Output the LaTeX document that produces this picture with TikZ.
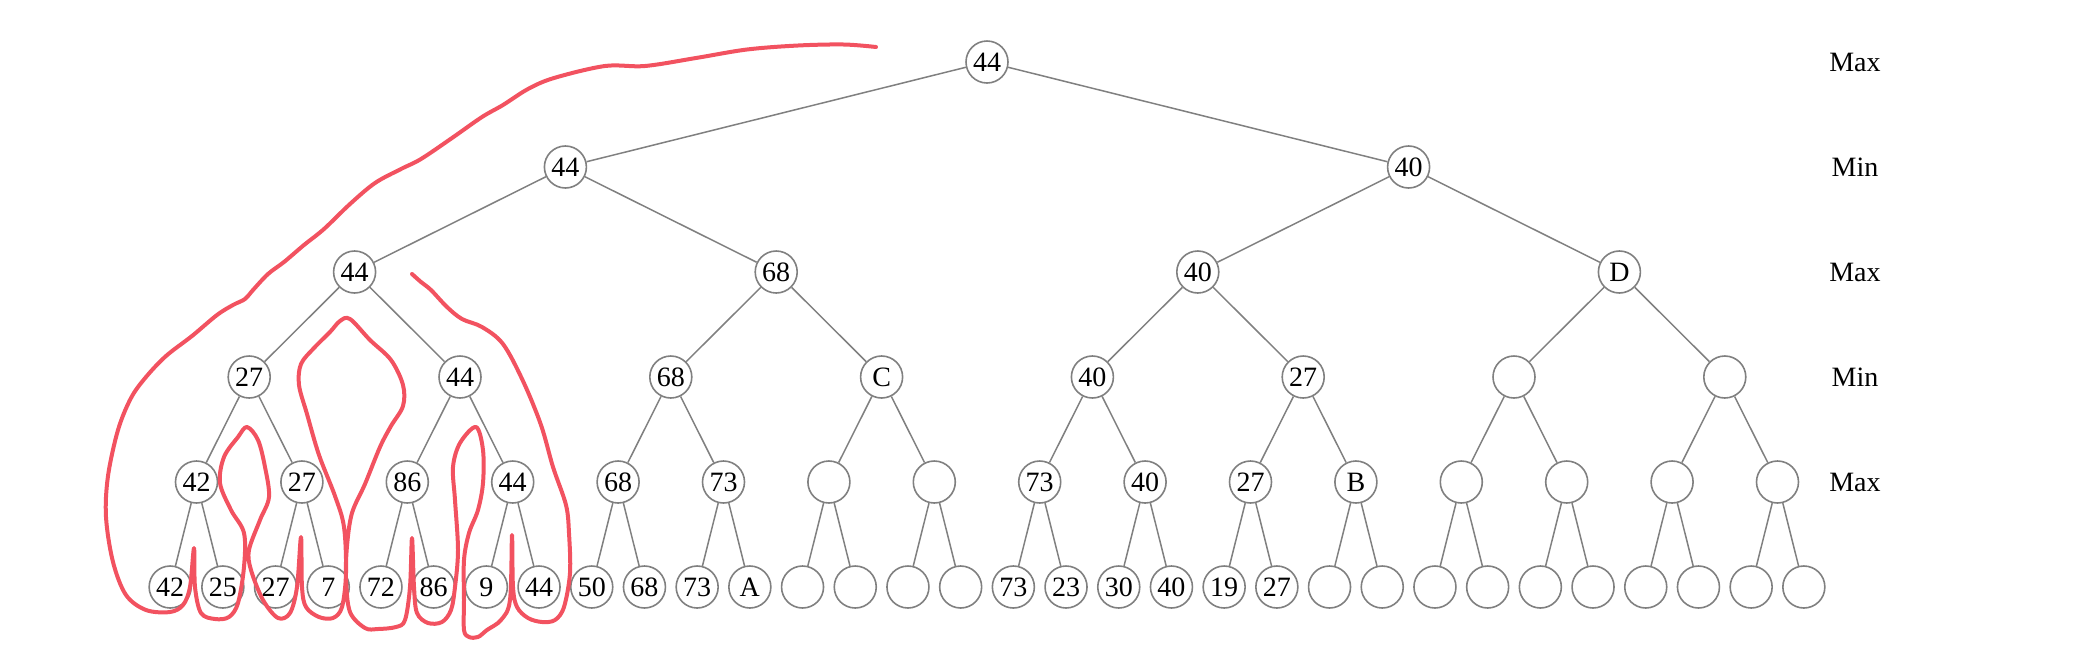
\documentclass[tikz,border=0pt]{standalone}
\usepackage{fontspec}
\setmainfont{Liberation Serif}
\usepackage{tikz}
\usetikzlibrary{positioning, calc}
\definecolor{penred}{RGB}{242,82,96}
\tikzstyle{gamenode}=[draw=black!50,line width=0.8pt,fill=white,circle,minimum size=21pt,inner sep=0pt,font=\fontsize{14}{16}\selectfont]
\tikzstyle{plylabel}=[font=\fontsize{14}{16}\selectfont]
\tikzstyle{penline}=[draw=penred,line width=2pt,line cap=round,line join=round]

\begin{document}
\begin{tikzpicture}[x=0.5pt,y=-0.5pt,level distance=52.5pt,
    level/.style={sibling distance=843.2pt/2^#1},
    edge from parent/.style={draw,black!50,line width=0.75pt}]
    \useasboundingbox (0,0) rectangle (2078,644);
    \node [gamenode] (root) at (987,62) {44}
      child {
        node [gamenode] {44}
        child {
          node [gamenode] {44}
          child {
            node [gamenode] {27}
            child {
              node [gamenode] {42}
              child {node [gamenode] {42}}
              child {node [gamenode] {25}}
            }
            child {
              node [gamenode] {27}
              child {node [gamenode] {27}}
              child {node [gamenode] {7}}
            }
          }
          child {
            node [gamenode] {44}
            child {
              node [gamenode] {86}
              child {node [gamenode] {72}}
              child {node [gamenode] {86}}
            }
            child {
              node [gamenode] {44}
              child {node [gamenode] {9}}
              child {node [gamenode] {44}}
            }
          }
        }
        child {
          node [gamenode] {68}
          child {
            node [gamenode] {68}
            child {
              node [gamenode] {68}
              child {node [gamenode] {50}}
              child {node [gamenode] {68}}
            }
            child {
              node [gamenode] {73}
              child {node [gamenode] {73}}
              child {node [gamenode] {A}}
            }
          }
          child {
            node [gamenode] {C}
            child {
              node [gamenode] {}
              child {node [gamenode] {}}
              child {node [gamenode] {}}
            }
            child {
              node [gamenode] {}
              child {node [gamenode] {}}
              child {node [gamenode] {}}
            }
          }
        }
      }
      child {
        node [gamenode] {40}
        child {
          node [gamenode] {40}
          child {
            node [gamenode] {40}
            child {
              node [gamenode] {73}
              child {node [gamenode] {73}}
              child {node [gamenode] {23}}
            }
            child {
              node [gamenode] {40}
              child {node [gamenode] {30}}
              child {node [gamenode] {40}}
            }
          }
          child {
            node [gamenode] {27}
            child {
              node [gamenode] {27}
              child {node [gamenode] {19}}
              child {node [gamenode] {27}}
            }
            child {
              node [gamenode] {B}
              child {node [gamenode] {}}
              child {node [gamenode] {}}
            }
          }
        }
        child {
          node [gamenode] {D}
          child {
            node [gamenode] {}
            child {
              node [gamenode] {}
              child {node [gamenode] {}}
              child {node [gamenode] {}}
            }
            child {
              node [gamenode] {}
              child {node [gamenode] {}}
              child {node [gamenode] {}}
            }
          }
          child {
            node [gamenode] {}
            child {
              node [gamenode] {}
              child {node [gamenode] {}}
              child {node [gamenode] {}}
            }
            child {
              node [gamenode] {}
              child {node [gamenode] {}}
              child {node [gamenode] {}}
            }
          }
        }
      };
    \foreach \t [count=\i from 0] in {Max,Min,Max,Min,Max}
      \node [plylabel] (ply\i) at (1855,{62+105*\i}) {\t};
    \draw [penline] plot [smooth, tension=0.55] coordinates {
      (876,47) (844,44.5) (798,45.5) (747,49.5) (696,58) (645,66) (605,66)
      (554,78) (528,89) (503,105) (482,117) (452,138) (421,159) (401,169)
      (375,183) (350,204) (324,229) (304,245) (284,262) (268,274) (253,290)
      (245,299) (233,305) (217,315) (192,336) (166,356) (146,377) (131,398)
      (118,430) (108,476) (106,517) (113,562) (126,595) (146,610) (170,612)
      (183,605) (190,587) (194,548) (195,587) (201,613) (215,619) (229,617)
      (238,603) (244,567) (244,533) (231,510) (220,483) (224,457) (238,437)
      (247,427) (258,440) (265,467) (269,497) (260,520) (249,550) (251,570)
      (263,600) (278,618) (290,613) (297,587) (301,537) (302,587) (306,607)
      (319,617) (333,618) (342,607) (346,573) (344,527) (335,496) (319,455)
      (307,414) (299,385) (301,364) (314,348) (330,332) (340,321) (350,319)
      (370,340) (391,360) (403,385) (403,406) (391,426) (380,447) (365,484)
      (352,513) (347,546) (346,579) (350,612) (365,628) (378,629) (396,627)
      (405,620) (410,587) (412,538) (414,587) (417,613) (428,623) (442,622)
      (451,610) (455,587) (458,550) (455,500) (453,467) (460,443) (476,427)
      (483,450) (483,483) (478,510) (469,533) (464,560) (464,600) (464,630)
      (469,637) (478,637) (487,630) (501,620) (510,600) (512,535) (513,587)
      (517,607) (528,618) (542,622) (555,620) (564,607) (570,573) (569,533)
      (566,505) (553,467) (541,425) (523,381) (503,344) (482,327) (462,319)
      (447,307) (431,290) (421,282) (412,274)};
\end{tikzpicture}
\end{document}
